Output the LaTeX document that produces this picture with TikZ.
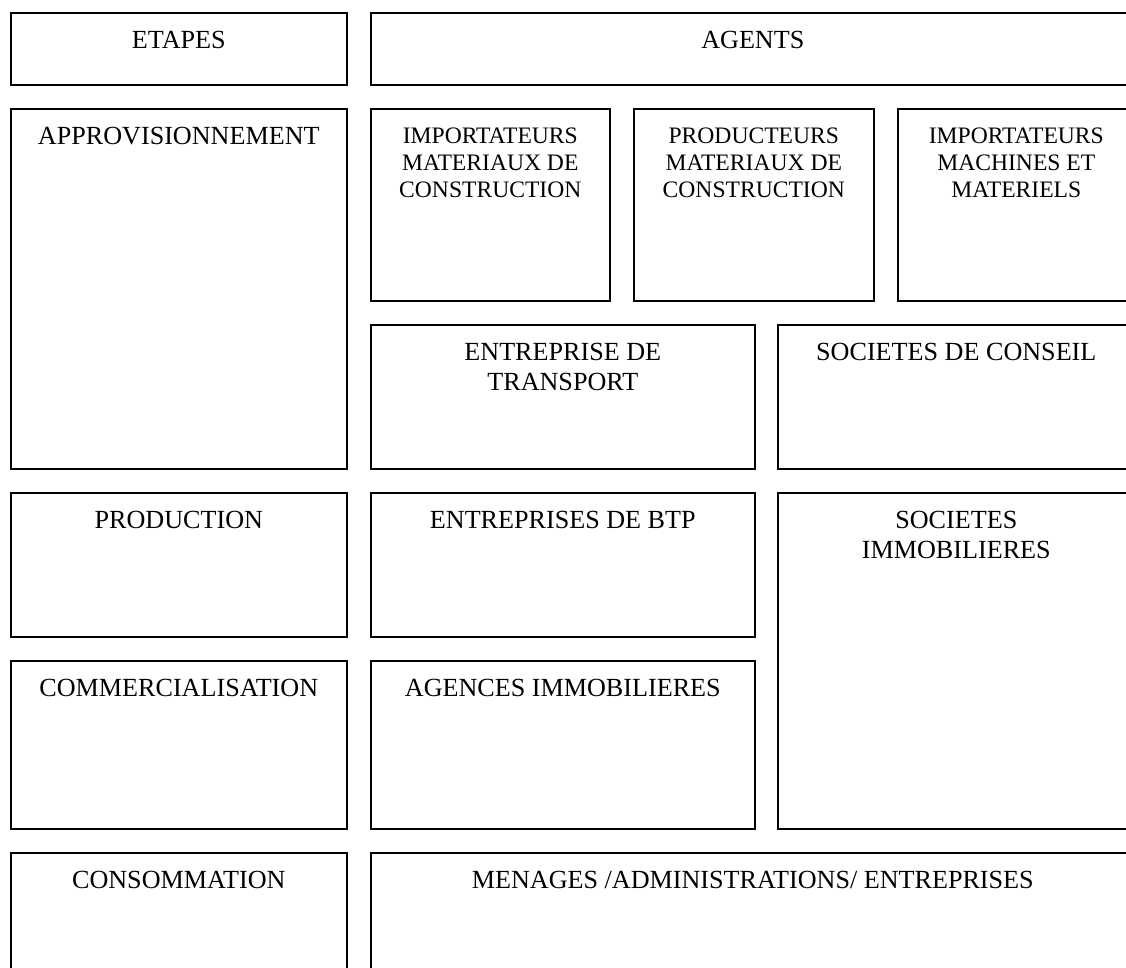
\documentclass[tikz,border=0pt]{standalone}
\usepackage{fontspec}
\setmainfont{Liberation Serif}
\begin{document}
\begin{tikzpicture}[x=0.75pt,y=-0.75pt,
  box/.style={draw=black,line width=1.2pt,rectangle,inner sep=0pt,anchor=north west},
  lab/.style={inner sep=0pt,anchor=north,align=center,font=\fontsize{19.6pt}{22.5pt}\selectfont},
  slab/.style={inner sep=0pt,anchor=north,align=center,font=\fontsize{17.7pt}{20.3pt}\selectfont}]
\useasboundingbox (0,0) rectangle (1126,967);
\clip (0,0) rectangle (1126,967);
\newcommand\mybox[5]{\node[box,minimum width=#4*0.75pt,minimum height=#5*0.75pt] (#1) at (#2,#3) {};}
% boxes
\mybox{etapes}{10}{12}{336}{72}
\mybox{agents}{370}{12}{764}{72}
\mybox{appro}{10}{108}{336}{360}
\mybox{impmat}{370}{108}{239}{192}
\mybox{prodmat}{633}{108}{240}{192}
\mybox{impmach}{897}{108}{237}{192}
\mybox{transport}{370}{324}{384}{144}
\mybox{conseil}{777}{324}{357}{144}
\mybox{production}{10}{492}{336}{144}
\mybox{btp}{370}{492}{384}{144}
\mybox{immo}{777}{492}{357}{336}
\mybox{commerc}{10}{660}{336}{168}
\mybox{agences}{370}{660}{384}{168}
\mybox{consom}{10}{852}{336}{160}
\mybox{menages}{370}{852}{764}{160}
% labels
\node[lab] (tetapes) at ([yshift=-18.5*0.75pt]etapes.north) {ETAPES};
\node[lab] (tagents) at ([yshift=-18.5*0.75pt]agents.north) {AGENTS};
\node[lab] (tappro) at ([yshift=-18.5*0.75pt]appro.north) {APPROVISIONNEMENT};
\node[slab] (timpmat) at ([yshift=-19.5*0.75pt]impmat.north) {IMPORTATEURS\\MATERIAUX DE\\CONSTRUCTION};
\node[slab] (tprodmat) at ([yshift=-19.5*0.75pt]prodmat.north) {PRODUCTEURS\\MATERIAUX DE\\CONSTRUCTION};
\node[slab] (timpmach) at ([yshift=-19.5*0.75pt]impmach.north) {IMPORTATEURS\\MACHINES ET\\MATERIELS};
\node[lab] (ttransport) at ([yshift=-18.5*0.75pt]transport.north) {ENTREPRISE DE\\TRANSPORT};
\node[lab] (tconseil) at ([yshift=-18.5*0.75pt]conseil.north) {SOCIETES DE CONSEIL};
\node[lab] (tproduction) at ([yshift=-18.5*0.75pt]production.north) {PRODUCTION};
\node[lab] (tbtp) at ([yshift=-18.5*0.75pt]btp.north) {ENTREPRISES DE BTP};
\node[lab] (timmo) at ([yshift=-18.5*0.75pt]immo.north) {SOCIETES\\IMMOBILIERES};
\node[lab] (tcommerc) at ([yshift=-18.5*0.75pt]commerc.north) {COMMERCIALISATION};
\node[lab] (tagences) at ([yshift=-18.5*0.75pt]agences.north) {AGENCES IMMOBILIERES};
\node[lab] (tconsom) at ([yshift=-18.5*0.75pt]consom.north) {CONSOMMATION};
\node[lab] (tmenages) at ([yshift=-18.5*0.75pt]menages.north) {MENAGES /ADMINISTRATIONS/ ENTREPRISES};
\end{tikzpicture}
\end{document}
